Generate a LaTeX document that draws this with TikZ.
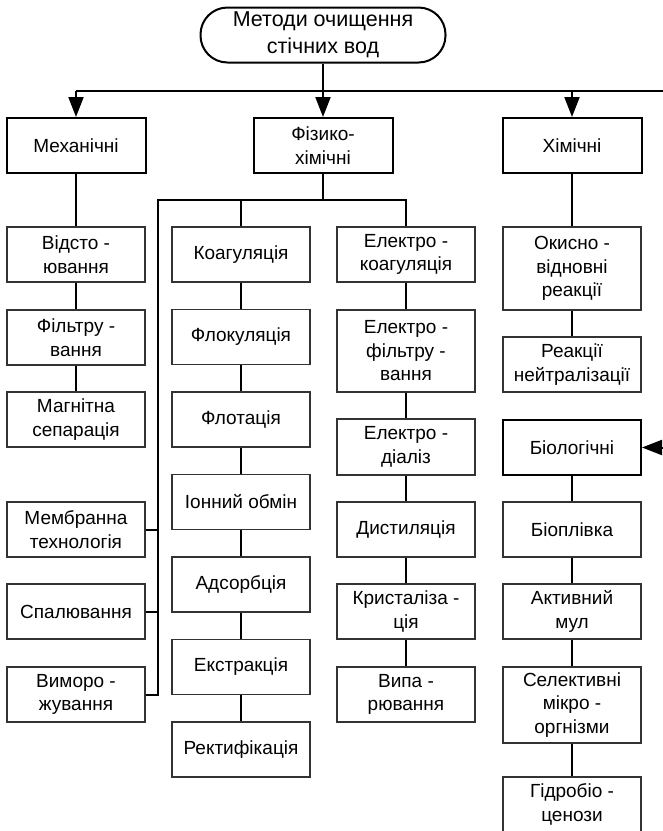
\documentclass[tikz,border=0pt]{standalone}
\usepackage{fontspec}
\setmainfont{Liberation Sans}
\usetikzlibrary{arrows.meta}
\newcommand\boxfont{\fontsize{19}{23.5}\selectfont}
\newcommand\titlefont{\fontsize{21.5}{27}\selectfont}
\tikzset{
  conn/.style={line width=2pt, black},
  tip/.style={-{Triangle[length=20pt,width=15pt]}},
  mainbox/.style={draw, line width=2pt, minimum width=139pt, minimum height=55pt,
    inner sep=0pt, align=center, font=\boxfont},
  subbox/.style={draw=black!80, line width=1.1pt, minimum width=138pt,
    minimum height=55pt, inner sep=0pt, align=center, font=\boxfont},
  bigbox/.style={subbox, draw=black, line width=2pt}
}
\begin{document}
\begin{tikzpicture}[x=1pt,y=-1pt]
\useasboundingbox (0,0) rectangle (663,831);

% root
\node[draw, line width=2pt, rounded corners=27pt, minimum width=245pt,
  minimum height=55pt, inner sep=0pt, align=center, font=\titlefont]
  (root) at (323,35) {Методи очищення\\стічних вод};

% main groups
\node[mainbox] (mech) at (76,145.5) {Механічні};
\node[mainbox] (fiz)  at (323,145.5) {Фізико-\\хімічні};
\node[mainbox] (chem) at (572,145.5) {Хімічні};

% mechanical column
\node[subbox] (m1) at (76,254.5) {Відсто -\\ювання};
\node[subbox] (m2) at (76,337.5) {Фільтру -\\вання};
\node[subbox] (m3) at (76,419.5) {Магнітна\\сепарація};
\node[subbox] (m4) at (76,529.5) {Мембранна\\технологія};
\node[subbox] (m5) at (76,611.5) {Спалювання};
\node[subbox] (m6) at (76,694.5) {Виморо -\\жування};

% physico-chemical column
\node[subbox] (p1) at (241,254.5) {Коагуляція};
\node[subbox] (p2) at (241,337) {Флокуляція};
\node[subbox] (p3) at (241,419.5) {Флотація};
\node[subbox] (p4) at (241,502) {Іонний обмін};
\node[subbox] (p5) at (241,584.5) {Адсорбція};
\node[subbox] (p6) at (241,667) {Екстракція};
\node[subbox] (p7) at (241,749.5) {Ректифікація};

% electro column
\node[subbox] (e1) at (406,254.5) {Електро -\\коагуляція};
\node[subbox, minimum height=82pt] (e2) at (406,351) {Електро -\\фільтру -\\вання};
\node[subbox, minimum height=56pt] (e3) at (406,447) {Електро -\\діаліз};
\node[subbox] (e4) at (406,529.5) {Дистиляція};
\node[subbox] (e5) at (406,611.5) {Кристаліза -\\ція};
\node[subbox] (e6) at (406,694.5) {Випа -\\рювання};

% chemical and biological column
\node[subbox, minimum height=83pt] (c1) at (572,268.5) {Окисно -\\відновні\\реакції};
\node[subbox] (c2) at (572,364.5) {Реакції\\нейтралізації};
\node[bigbox] (bio) at (572,447.5) {Біологічні};
\node[subbox] (b1) at (572,529.5) {Біоплівка};
\node[subbox] (b2) at (572,611.5) {Активний\\мул};
\node[subbox, minimum height=76pt] (b3) at (572,705) {Селективні\\мікро -\\оргнізми};
\node[subbox] (b4) at (572,804.5) {Гідробіо -\\ценози};

% top bus
\coordinate (busL) at (76,91);
\coordinate (busR) at (690,91);
\draw[conn] (root.south) -- (root.south |- busL);
\draw[conn] (busL) -- (busR);
\draw[conn,tip] (busL) -- (mech.north);
\draw[conn,tip] (root.south |- busL) -- (fiz.north);
\draw[conn,tip] (chem.north |- busL) -- (chem.north);

% incoming arrow to the biological group
\coordinate (bioIn) at (690,447.5);
\draw[conn,tip] (bioIn) -- (bio.east);

% physico-chemical bus
\coordinate (b2L) at (158,200);
\draw[conn] (fiz.south) -- (fiz.south |- b2L);
\draw[conn] (e1.north) -- (e1.north |- b2L) -- (b2L) -- (b2L |- m6.east) -- (m6.east);
\draw[conn] (p1.north |- b2L) -- (p1.north);
\draw[conn] (m4.east) -- (m4.east -| b2L);
\draw[conn] (m5.east) -- (m5.east -| b2L);

% chains
\draw[conn] (mech.south) -- (m1.north);
\draw[conn] (m1) -- (m2);
\draw[conn] (m2) -- (m3);
\draw[conn] (p1) -- (p2);
\draw[conn] (p2) -- (p3);
\draw[conn] (p3) -- (p4);
\draw[conn] (p4) -- (p5);
\draw[conn] (p5) -- (p6);
\draw[conn] (p6) -- (p7);
\draw[conn] (e1) -- (e2);
\draw[conn] (e2) -- (e3);
\draw[conn] (e3) -- (e4);
\draw[conn] (e4) -- (e5);
\draw[conn] (e5) -- (e6);
\draw[conn] (chem.south) -- (c1.north);
\draw[conn] (c1) -- (c2);
\draw[conn] (bio) -- (b1);
\draw[conn] (b1) -- (b2);
\draw[conn] (b2) -- (b3);
\draw[conn] (b3) -- (b4);
\end{tikzpicture}
\end{document}
